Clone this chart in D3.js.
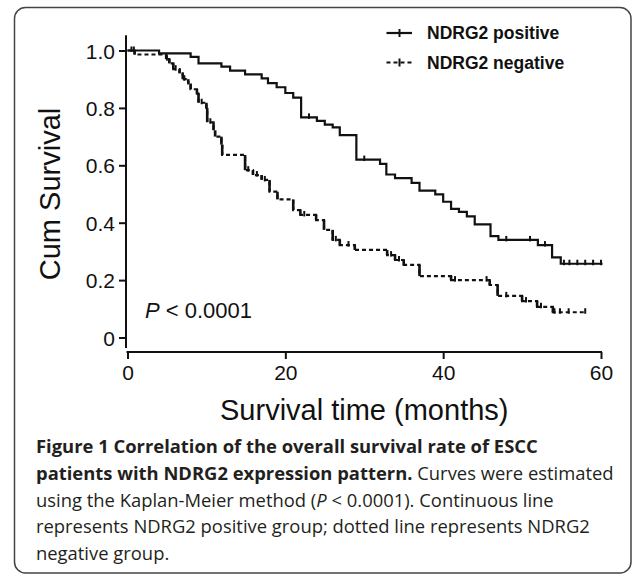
<!DOCTYPE html>
<html><head><meta charset="utf-8">
<script src="https://cdn.jsdelivr.net/npm/d3@7"></script>
<style>
html,body{margin:0;padding:0;background:#fff;}
svg{display:block;}
</style></head>
<body>
<svg id="c" width="633" height="576"></svg>
<script>
// ---- data ----
const timePos = [0, 4.0, 8.0, 9.0, 11.9, 13.0, 14.9, 17.0, 17.8, 18.9, 20.0, 21.0, 22.0, 24.0, 25.0, 26.0, 26.9, 29.0, 32.0, 32.8, 33.9, 36.0, 37.0, 39.0, 40.0, 41.0, 42.0, 43.0, 44.0, 46.0, 47.0, 52.0, 53.8, 54.9];
const survPos = [1.0, 0.990, 0.978, 0.955, 0.944, 0.930, 0.917, 0.903, 0.886, 0.872, 0.852, 0.836, 0.767, 0.755, 0.742, 0.732, 0.705, 0.620, 0.605, 0.568, 0.555, 0.539, 0.512, 0.499, 0.473, 0.448, 0.438, 0.422, 0.394, 0.353, 0.340, 0.322, 0.279, 0.257];
const censorPos = [0.8, 23.0, 30.0, 48.0, 51.0, 52.9, 55.3, 56.0, 57.0, 58.0, 59.0, 60.0];
const endPos = 60.2;

const timeNeg = [0, 0.9, 4.9, 5.3, 5.8, 6.6, 7.0, 7.7, 8.0, 8.8, 9.0, 10.0, 10.1, 10.9, 11.1, 11.9, 12.0, 14.9, 15.9, 17.0, 18.0, 19.0, 21.0, 21.9, 23.9, 24.9, 26.0, 26.9, 28.8, 32.9, 33.9, 35.0, 37.0, 41.0, 45.9, 46.9, 50.0, 51.9, 53.9];
const survNeg = [1.0, 0.986, 0.970, 0.955, 0.935, 0.920, 0.900, 0.885, 0.865, 0.850, 0.818, 0.800, 0.750, 0.722, 0.700, 0.672, 0.636, 0.583, 0.566, 0.549, 0.508, 0.481, 0.444, 0.427, 0.409, 0.375, 0.340, 0.322, 0.305, 0.287, 0.270, 0.253, 0.214, 0.200, 0.183, 0.145, 0.127, 0.107, 0.088];
const censorNeg = [0.5, 5.0, 6.1, 7.2, 9.4, 10.5, 15.3, 16.4, 17.4, 22.4, 26.4, 28.0, 33.4, 34.4, 41.5, 45.5, 48.0, 50.5, 52.4, 54.1, 54.8, 55.9, 58.0];
const endNeg = 58.1;

const xTicks = [0, 20, 40, 60];
const yTicks = [0, 0.2, 0.4, 0.6, 0.8, 1.0];
const yTickLabels = ["0", "0.2", "0.4", "0.6", "0.8", "1.0"];
const seriesNames = ["NDRG2 positive", "NDRG2 negative"];

const captionLines = [
  [{t:"Figure 1 Correlation of the overall survival rate of ESCC", b:true}],
  [{t:"patients with NDRG2 expression pattern.", b:true}, {t:" Curves were estimated", b:false}],
  [{t:"using the Kaplan-Meier method (", b:false}, {t:"P", b:false, i:true}, {t:" < 0.0001). Continuous line", b:false}],
  [{t:"represents NDRG2 positive group; dotted line represents NDRG2", b:false}],
  [{t:"negative group.", b:false}]
];

// ---- drawing ----
const svg = d3.select("#c");
const ink = "#111";

// frame
svg.append("rect").attr("x", 14.5).attr("y", 7.5).attr("width", 616.5).attr("height", 565.5)
  .attr("rx", 11).attr("fill", "none").attr("stroke", "#444").attr("stroke-width", 1.5);

const x = d3.scaleLinear().domain([0, 60]).range([127.5, 601]);
const y = d3.scaleLinear().domain([0, 1]).range([337.5, 50.5]);

const axFont = "'Liberation Sans', Arial, sans-serif";

// y axis
const gy = svg.append("g").attr("transform", "translate(126,0)")
  .call(d3.axisLeft(y).tickValues(yTicks).tickSize(7).tickSizeOuter(0)
    .tickFormat((d, i) => yTickLabels[i]));
gy.select(".domain").remove();
gy.append("line").attr("x1", 0).attr("x2", 0).attr("y1", y(1.053)).attr("y2", 348)
  .attr("stroke", ink).attr("stroke-width", 2);
gy.selectAll(".tick line").attr("stroke", ink).attr("stroke-width", 2);
gy.selectAll(".tick text").attr("x", -11).attr("dy", "0.36em")
  .style("font-family", axFont).style("font-size", "21px").attr("fill", ink);

// x axis
const gx = svg.append("g").attr("transform", "translate(0,352)")
  .call(d3.axisBottom(x).tickValues(xTicks).tickSize(7).tickSizeOuter(0).tickFormat(d3.format("d")));
gx.select(".domain").remove();
gx.append("line").attr("x1", x(0) - 1).attr("x2", x(60) + 1).attr("y1", 0).attr("y2", 0)
  .attr("stroke", ink).attr("stroke-width", 2);
gx.selectAll(".tick line").attr("stroke", ink).attr("stroke-width", 2);
gx.selectAll(".tick text").attr("y", 13).attr("dy", "0.71em")
  .style("font-family", axFont).style("font-size", "21px").attr("fill", ink);

// axis titles
svg.append("text").attr("x", x(30)).attr("y", 420).attr("text-anchor", "middle")
  .style("font-family", axFont).style("font-size", "29px").attr("fill", ink)
  .text("Survival time (months)");
svg.append("text").attr("transform", "translate(60," + y(0.5) + ") rotate(-90)")
  .attr("text-anchor", "middle")
  .style("font-family", axFont).style("font-size", "29px").attr("fill", ink)
  .text("Cum Survival");

// curves
function stepPoints(times, surv, end) {
  const pts = times.map((t, i) => [t, surv[i]]);
  pts.push([end, surv[surv.length - 1]]);
  return pts;
}
function survAt(times, surv, t) {
  let s = surv[0];
  for (let i = 0; i < times.length; i++) if (times[i] <= t) s = surv[i];
  return s;
}
const line = d3.line().x(d => x(d[0])).y(d => y(d[1])).curve(d3.curveStepAfter);

const series = [
  {times: timePos, surv: survPos, cens: censorPos, end: endPos, dash: null},
  {times: timeNeg, surv: survNeg, cens: censorNeg, end: endNeg, dash: "4,3"}
];

series.forEach(s => {
  svg.append("path").attr("d", line(stepPoints(s.times, s.surv, s.end)))
    .attr("fill", "none").attr("stroke", ink).attr("stroke-width", 2.2)
    .attr("stroke-dasharray", s.dash);
  if (s.dash) {
    for (let i = 1; i < s.times.length; i++) {
      svg.append("line").attr("x1", x(s.times[i])).attr("x2", x(s.times[i]))
        .attr("y1", y(s.surv[i - 1])).attr("y2", y(s.surv[i]))
        .attr("stroke", ink).attr("stroke-width", 2.6);
    }
  }
  svg.append("g").selectAll("line").data(s.cens).join("line")
    .attr("x1", d => x(d)).attr("x2", d => x(d))
    .attr("y1", d => y(survAt(s.times, s.surv, d)) - 4)
    .attr("y2", d => y(survAt(s.times, s.surv, d)) + 1.5)
    .attr("stroke", ink).attr("stroke-width", 2);
});

// legend
const lg = svg.append("g");
[0, 1].forEach(i => {
  const ly = 33 + i * 29.5;
  lg.append("line").attr("x1", 386.5).attr("x2", 412).attr("y1", ly).attr("y2", ly)
    .attr("stroke", ink).attr("stroke-width", 2.2)
    .attr("stroke-dasharray", i === 1 ? "4,3" : null);
  lg.append("line").attr("x1", 399.5).attr("x2", 399.5).attr("y1", ly - 4).attr("y2", ly + 4)
    .attr("stroke", ink).attr("stroke-width", 2);
  lg.append("text").attr("x", 427).attr("y", ly + 6.3)
    .style("font-family", axFont).style("font-size", "17.5px").style("font-weight", "bold")
    .attr("fill", ink).text(seriesNames[i]);
});

// P value
const pt = svg.append("text").attr("x", 145).attr("y", 318)
  .style("font-family", axFont).style("font-size", "22px").attr("fill", ink);
pt.append("tspan").style("font-style", "italic").text("P");
pt.append("tspan").text(" < 0.0001");

// caption
const capFont = "'Open Sans', 'Noto Sans', sans-serif";
captionLines.forEach((ln, i) => {
  const t = svg.append("text").attr("x", 36).attr("y", 453 + i * 26.8)
    .style("font-family", capFont).style("font-size", "18.4px").attr("fill", "#231f20");
  ln.forEach(p => {
    t.append("tspan").text(p.t)
      .style("font-weight", p.b ? "bold" : "normal")
      .style("font-style", p.i ? "italic" : "normal");
  });
});
</script>
</body></html>
